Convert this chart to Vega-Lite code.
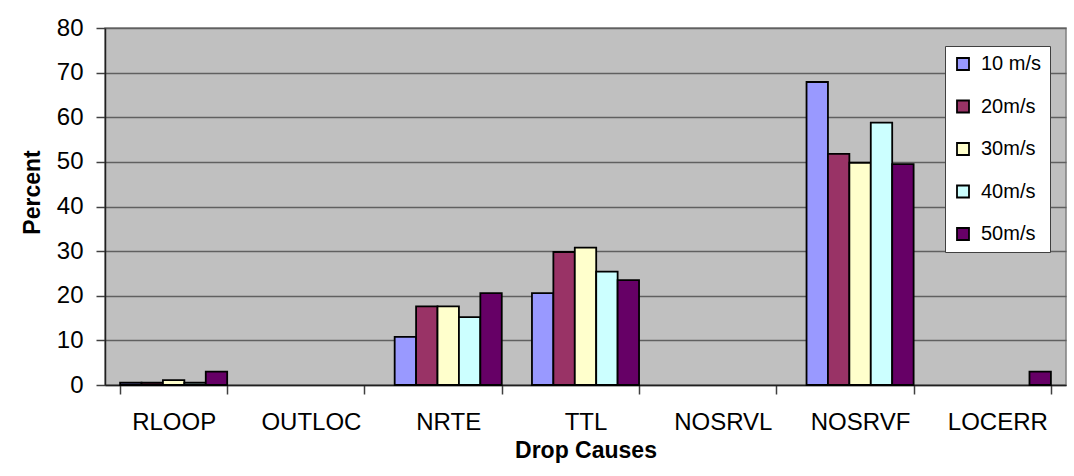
{
  "$schema": "https://vega.github.io/schema/vega-lite/v6.json",
  "width": 961,
  "height": 357,
  "autosize": {"type": "none"},
  "padding": {"left": 105, "top": 28, "right": 8, "bottom": 91},
  "background": "white",
  "config": {
    "font": "Liberation Sans",
    "view": {"fill": "#C0C0C0", "stroke": "#808080", "strokeWidth": 1.5}
  },
  "data": {
    "values": [
      {"cause": "RLOOP", "speed": "10 m/s", "percent": 0.5},
      {"cause": "RLOOP", "speed": "20m/s", "percent": 0.5},
      {"cause": "RLOOP", "speed": "30m/s", "percent": 1.1},
      {"cause": "RLOOP", "speed": "40m/s", "percent": 0.5},
      {"cause": "RLOOP", "speed": "50m/s", "percent": 3.0},
      {"cause": "NRTE", "speed": "10 m/s", "percent": 10.8},
      {"cause": "NRTE", "speed": "20m/s", "percent": 17.6},
      {"cause": "NRTE", "speed": "30m/s", "percent": 17.6},
      {"cause": "NRTE", "speed": "40m/s", "percent": 15.2},
      {"cause": "NRTE", "speed": "50m/s", "percent": 20.6},
      {"cause": "TTL", "speed": "10 m/s", "percent": 20.6},
      {"cause": "TTL", "speed": "20m/s", "percent": 29.8},
      {"cause": "TTL", "speed": "30m/s", "percent": 30.8},
      {"cause": "TTL", "speed": "40m/s", "percent": 25.4},
      {"cause": "TTL", "speed": "50m/s", "percent": 23.5},
      {"cause": "NOSRVF", "speed": "10 m/s", "percent": 67.9},
      {"cause": "NOSRVF", "speed": "20m/s", "percent": 51.8},
      {"cause": "NOSRVF", "speed": "30m/s", "percent": 49.8},
      {"cause": "NOSRVF", "speed": "40m/s", "percent": 58.8},
      {"cause": "NOSRVF", "speed": "50m/s", "percent": 49.5},
      {"cause": "LOCERR", "speed": "50m/s", "percent": 3.0}
    ]
  },
  "mark": {"type": "bar", "stroke": "black", "strokeWidth": 1.8},
  "encoding": {
    "x": {
      "field": "cause",
      "type": "nominal",
      "sort": null,
      "scale": {
        "domain": ["RLOOP", "OUTLOC", "NRTE", "TTL", "NOSRVL", "NOSRVF", "LOCERR"],
        "paddingInner": 0.22,
        "paddingOuter": 0.11
      },
      "axis": {
        "title": "Drop Causes",
        "titleFontSize": 23,
        "titleFontWeight": "bold",
        "titleColor": "black",
        "titlePadding": 5,
        "labelAngle": 0,
        "labelFontSize": 24,
        "labelColor": "black",
        "labelPadding": 16,
        "tickBand": "extent",
        "tickSize": 9,
        "tickColor": "#404040",
        "tickWidth": 1.5,
        "domainColor": "#202020",
        "domainWidth": 1.5,
        "grid": false
      }
    },
    "xOffset": {
      "field": "speed",
      "type": "nominal",
      "scale": {"domain": ["10 m/s", "20m/s", "30m/s", "40m/s", "50m/s"], "paddingInner": 0, "paddingOuter": 0}
    },
    "y": {
      "field": "percent",
      "type": "quantitative",
      "scale": {"domain": [0, 80], "nice": false},
      "axis": {
        "title": "Percent",
        "titleFontSize": 23,
        "titleFontWeight": "bold",
        "titleColor": "black",
        "titlePadding": 12,
        "titleY": 164,
        "values": [0, 10, 20, 30, 40, 50, 60, 70, 80],
        "labelFontSize": 24,
        "labelColor": "black",
        "labelPadding": 13,
        "tickSize": 9,
        "tickColor": "#404040",
        "tickWidth": 1.5,
        "domainColor": "#202020",
        "domainWidth": 1.5,
        "grid": true,
        "gridColor": "#606060",
        "gridWidth": 1.5
      }
    },
    "fill": {
      "field": "speed",
      "type": "nominal",
      "scale": {
        "domain": ["10 m/s", "20m/s", "30m/s", "40m/s", "50m/s"],
        "range": ["#9999FF", "#993366", "#FFFFCC", "#CCFFFF", "#660066"]
      },
      "legend": {
        "title": null,
        "orient": "none",
        "legendX": 840,
        "legendY": 18,
        "fillColor": "white",
        "strokeColor": "#404040",
        "padding": 8,
        "symbolType": "square",
        "symbolSize": 144,
        "symbolStrokeColor": "black",
        "symbolStrokeWidth": 1.8,
        "labelFontSize": 20,
        "labelColor": "black",
        "labelOffset": 8,
        "rowPadding": 22.5,
        "labelLimit": 200
      }
    }
  }
}
